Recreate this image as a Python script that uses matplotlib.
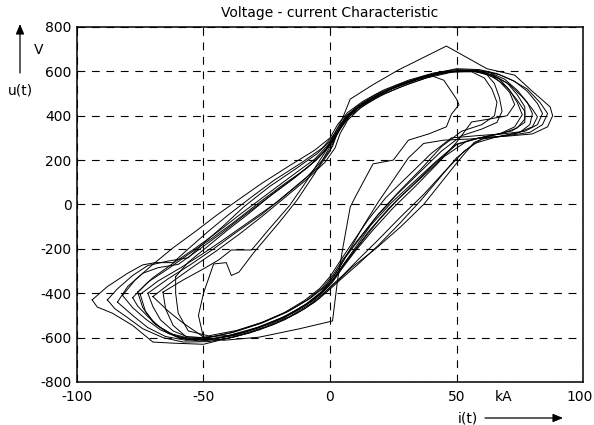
import numpy as np
import matplotlib.pyplot as plt

plt.rcParams['font.family'] = ['DejaVu Sans']
plt.rcParams['axes.unicode_minus'] = False

# measured cycles, (i in kA, u in V), one list per cycle
cycle_01 = [(-78, -420), (-72, -350), (-64, -290), (-56, -225), (-47, -155), (-38, -80), (-29, 0),
            (-19, 85), (-9, 165), (-3, 230), (1, 290), (4, 350), (8, 410), (14, 460), (22, 510),
            (32, 555), (42, 588), (51, 603), (59, 598), (65, 572), (70, 528), (74, 470), (77, 420),
            (77, 370), (72, 332), (63, 310), (54, 285), (45, 215), (36, 120), (27, 25), (19, -75),
            (12, -175), (6, -260), (2, -330), (-2, -385), (-7, -435), (-14, -485), (-23, -533),
            (-33, -572), (-43, -600), (-53, -610), (-61, -593), (-67, -555), (-72, -505),
            (-76, -458), (-78, -420)]
cycle_02 = [(-82, -410), (-77, -340), (-70, -270), (-62, -195), (-53, -120), (-45, -50), (-37, 15),
            (-27, 95), (-16, 175), (-6, 245), (0, 300), (3, 360), (7, 415), (13, 465), (21, 515),
            (31, 560), (41, 593), (50, 608), (58, 604), (65, 580), (71, 540), (76, 485), (80, 430),
            (82, 395), (80, 350), (74, 322), (65, 302), (57, 275), (50, 210), (43, 115), (36, 20),
            (28, -80), (19, -185), (11, -270), (4, -340), (-1, -392), (-6, -440), (-13, -490),
            (-22, -540), (-32, -580), (-42, -607), (-52, -615), (-60, -600), (-67, -565),
            (-73, -515), (-78, -465), (-82, -410)]
cycle_03 = [(-75, -405), (-68, -345), (-59, -285), (-50, -220), (-41, -150), (-31, -70), (-21, 10),
            (-12, 95), (-4, 175), (0, 240), (2, 300), (5, 360), (9, 420), (16, 470), (24, 520),
            (34, 562), (44, 593), (53, 605), (61, 596), (67, 565), (71, 515), (74, 460), (76, 405),
            (73, 350), (67, 318), (58, 298), (50, 272), (42, 195), (33, 100), (24, 5), (16, -95),
            (10, -195), (5, -275), (1, -340), (-3, -390), (-9, -445), (-17, -500), (-26, -545),
            (-36, -582), (-46, -604), (-55, -605), (-63, -582), (-69, -540), (-73, -480),
            (-75, -405)]
cycle_04 = [(-88, -430), (-84, -380), (-78, -320), (-72, -275), (-64, -255), (-56, -240),
            (-50, -175), (-42, -95), (-34, -10), (-24, 80), (-13, 165), (-5, 230), (0, 285),
            (3, 345), (7, 405), (13, 455), (21, 505), (31, 553), (41, 590), (50, 612), (59, 608),
            (66, 590), (72, 560), (78, 520), (83, 460), (86, 410), (84, 360), (79, 325), (70, 310),
            (60, 295), (53, 240), (45, 145), (37, 45), (28, -55), (19, -160), (11, -250), (5, -320),
            (0, -372), (-4, -420), (-10, -470), (-18, -520), (-28, -565), (-38, -598), (-48, -618),
            (-58, -620), (-66, -600), (-74, -560), (-80, -510), (-85, -470), (-88, -430)]
cycle_05 = [(-94, -430), (-88, -370), (-80, -310), (-74, -272), (-69, -262), (-62, -262),
            (-56, -200), (-48, -120), (-40, -45), (-32, 25), (-22, 110), (-11, 190), (-3, 255),
            (2, 320), (5, 390), (8, 475), (17, 540), (27, 606), (46, 714), (62, 612), (73, 583),
            (80, 510), (87, 440), (88, 400), (86, 350), (80, 318), (70, 308), (62, 304), (57, 280),
            (51, 200), (44, 100), (37, 0), (28, -100), (18, -200), (9, -280), (3, -345), (-2, -395),
            (-8, -450), (-16, -505), (-26, -553), (-37, -593), (-50, -630), (-62, -625),
            (-70, -620), (-78, -545), (-86, -490), (-92, -462), (-94, -430)]
cycle_06 = [(-72, -400), (-64, -335), (-55, -270), (-46, -200), (-37, -125), (-27, -45), (-18, 40),
            (-9, 125), (-3, 200), (1, 262), (3, 325), (6, 385), (11, 440), (18, 490), (27, 535),
            (37, 575), (47, 600), (56, 603), (62, 585), (65, 545), (67, 480), (68, 420), (66, 370),
            (60, 340), (52, 310), (44, 240), (35, 140), (26, 40), (18, -60), (11, -160), (5, -250),
            (1, -320), (-3, -375), (-9, -430), (-17, -485), (-27, -535), (-38, -575), (-48, -600),
            (-56, -598), (-62, -570), (-67, -520), (-70, -460), (-72, -400)]
cycle_07 = [(-50, -600), (-52, -500), (-50, -400), (-46, -268), (-41, -262), (-39, -320),
            (-36, -305), (-30, -215), (-20, -80), (-13, 20), (-6, 140), (-1, 240), (3, 320),
            (7, 400), (13, 455), (21, 505), (30, 550), (39, 585), (45, 560), (50, 475), (51, 450),
            (48, 407), (46, 350), (39, 318), (31, 290), (25, 200), (17, 183), (10, 34), (8, -11),
            (5, -200), (3, -340), (1, -525), (-12, -560), (-28, -598), (-42, -612), (-50, -600)]
cycle_08 = [(-76, -395), (-70, -330), (-62, -265), (-53, -195), (-44, -120), (-35, -40), (-25, 45),
            (-15, 130), (-6, 205), (-1, 265), (3, 330), (6, 395), (11, 445), (18, 495), (27, 540),
            (37, 578), (47, 600), (56, 606), (63, 595), (69, 565), (74, 515), (78, 460), (80, 410),
            (79, 360), (75, 325), (66, 305), (55, 295), (45, 290), (37, 275), (31, 210), (25, 110),
            (19, 10), (13, -100), (8, -200), (4, -280), (0, -345), (-4, -400), (-10, -455),
            (-18, -510), (-28, -555), (-38, -590), (-48, -610), (-57, -608), (-64, -580),
            (-70, -530), (-74, -465), (-76, -395)]
cycle_09 = [(-84, -440), (-80, -370), (-74, -310), (-68, -285), (-60, -270), (-52, -205),
            (-43, -130), (-34, -50), (-24, 35), (-14, 120), (-6, 195), (-1, 255), (2, 315),
            (6, 380), (11, 435), (18, 485), (26, 530), (36, 570), (46, 597), (55, 603), (62, 590),
            (67, 555), (71, 505), (73, 450), (70, 400), (63, 385), (56, 372), (50, 280), (43, 190),
            (34, 85), (25, -15), (17, -115), (10, -210), (5, -285), (1, -350), (-3, -398),
            (-9, -450), (-17, -503), (-27, -550), (-37, -588), (-47, -608), (-57, -612),
            (-65, -595), (-72, -555), (-78, -500), (-84, -440)]
cycle_10 = [(-70, -415), (-62, -345), (-54, -280), (-45, -210), (-36, -135), (-27, -55), (-18, 30),
            (-9, 115), (-2, 190), (2, 255), (4, 320), (7, 380), (12, 435), (19, 485), (28, 530),
            (38, 570), (48, 596), (57, 600), (64, 585), (70, 548), (74, 495), (77, 440), (77, 385),
            (74, 345), (68, 320), (59, 300), (50, 270), (41, 180), (32, 80), (23, -20), (15, -125),
            (9, -220), (4, -295), (0, -355), (-4, -405), (-10, -455), (-19, -510), (-29, -555),
            (-40, -590), (-50, -597), (-58, -535), (-64, -480), (-70, -415)]
cycle_11 = [(-61, -325), (-56, -260), (-49, -195), (-41, -120), (-32, -40), (-23, 45), (-13, 130),
            (-5, 205), (0, 268), (3, 330), (7, 392), (12, 445), (19, 495), (28, 540), (38, 578),
            (48, 600), (56, 598), (61, 570), (64, 520), (66, 460), (65, 400), (60, 360), (52, 330),
            (44, 260), (36, 160), (27, 55), (19, -45), (12, -150), (6, -240), (2, -315), (-2, -370),
            (-8, -425), (-16, -478), (-26, -528), (-37, -568), (-48, -592), (-56, -570),
            (-60, -490), (-61, -400), (-61, -325)]
cycle_12 = [(-66, -395), (-58, -340), (-50, -290), (-44, -250), (-39, -205), (-31, -205),
            (-24, -110), (-16, -5), (-9, 110), (-4, 200), (0, 270), (4, 340), (8, 400), (14, 452),
            (22, 502), (32, 548), (42, 585), (52, 605), (60, 602), (67, 585), (73, 555), (78, 510),
            (82, 455), (84, 410), (82, 360), (77, 330), (68, 318), (58, 310), (48, 300), (40, 230),
            (31, 130), (22, 30), (15, -70), (9, -170), (4, -255), (0, -325), (-4, -378),
            (-10, -432), (-18, -487), (-28, -537), (-39, -578), (-49, -602), (-57, -595),
            (-62, -545), (-65, -470), (-66, -395)]

cycles = [cycle_01, cycle_02, cycle_03, cycle_04, cycle_05, cycle_06,
          cycle_07, cycle_08, cycle_09, cycle_10, cycle_11, cycle_12]

x_ticks = [-100, -50, 0, 50, 100]
y_ticks = [-800, -600, -400, -200, 0, 200, 400, 600, 800]

fig = plt.figure(figsize=(5.94, 4.25), dpi=100)
ax = fig.add_axes([0.1296, 0.1012, 0.8519, 0.8353])

for c in cycles:
    pts = np.array(c, dtype=float)
    ax.plot(pts[:, 0], pts[:, 1], color='black', linewidth=0.7)

ax.set_xlim(-100, 100)
ax.set_ylim(-800, 800)
# last x label drawn by hand a bit to the left so it stays inside the figure
ax.set_xticks(x_ticks, [str(v) for v in x_ticks[:-1]] + [''])
ax.set_yticks(y_ticks)
ax.tick_params(length=0, labelsize=10, colors='black')
ax.tick_params(axis='x', pad=6)
ax.tick_params(axis='y', pad=4)
ax.annotate(str(x_ticks[-1]), xy=(x_ticks[-1], 0), xycoords=('data', 'axes fraction'),
            xytext=(-2.5, -6), textcoords='offset points', ha='center', va='top',
            fontsize=10, annotation_clip=False)
ax.grid(True, color='black', linewidth=0.8, linestyle=(0, (7, 6)))
for s in ax.spines.values():
    s.set_linewidth(1.1)

ax.set_title('Voltage - current Characteristic', fontsize=10, pad=7)

fig.text(504 / 594, 1 - 397 / 425, 'kA', fontsize=10, ha='center', va='center')
fig.text(468 / 594, 1 - 418 / 425, 'i(t)', fontsize=10, ha='center', va='center')
fig.text(20 / 594, 1 - 91 / 425, 'u(t)', fontsize=10, ha='center', va='center')
fig.text(39 / 594, 1 - 50 / 425, 'V', fontsize=10, ha='center', va='center')

arrow = dict(arrowstyle='-|>,head_length=0.6,head_width=0.25', color='black', lw=0.9,
             shrinkA=0, shrinkB=0)
ax.annotate('', xy=(563 / 594, 1 - 418 / 425), xytext=(485 / 594, 1 - 418 / 425),
            xycoords='figure fraction', textcoords='figure fraction',
            arrowprops=arrow, annotation_clip=False)
ax.annotate('', xy=(20 / 594, 1 - 24 / 425), xytext=(20 / 594, 1 - 73 / 425),
            xycoords='figure fraction', textcoords='figure fraction',
            arrowprops=arrow, annotation_clip=False)

fig.savefig('out.png', dpi=100)
